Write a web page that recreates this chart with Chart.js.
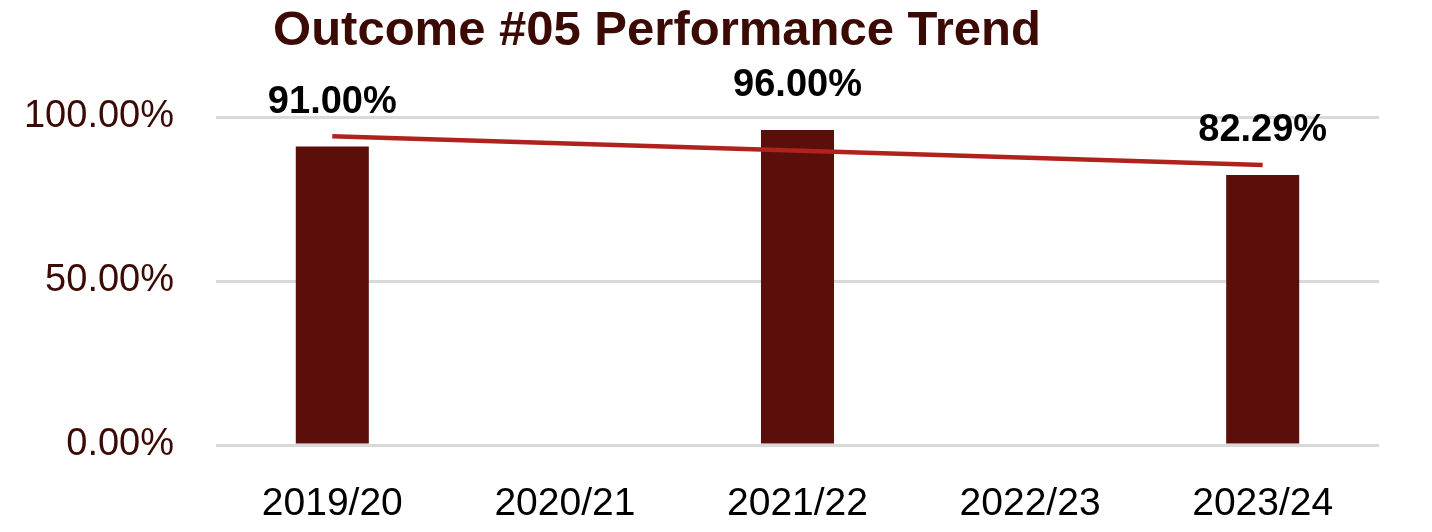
<!DOCTYPE html>
<html>
<head>
<meta charset="utf-8">
<script src="https://cdn.jsdelivr.net/npm/chart.js@4"></script>
<style>
  html, body { margin: 0; padding: 0; background: #fff; }
  #wrap { width: 1432px; height: 532px; }
</style>
</head>
<body>
<div id="wrap"><canvas id="myChart" width="1432" height="532"></canvas></div>
<script>
// data
var years = ["2019/20", "2020/21", "2021/22", "2022/23", "2023/24"];
var performance = [91.00, null, 96.00, null, 82.29];
var trend = [94.1, null, null, null, 85.4]; // linear trendline end points
var yTicks = [0, 50, 100];

var titleText = "Outcome #05 Performance Trend";
var fontName = "'Liberation Sans', Arial, sans-serif";

// title is off centre in the original, so draw it by hand
var titlePlugin = {
  id: "titleByHand",
  afterDraw: function (chart) {
    var c = chart.ctx;
    c.save();
    c.font = "bold 49px " + fontName;
    c.fillStyle = "#3c0a05";
    c.textAlign = "center";
    c.textBaseline = "alphabetic";
    c.fillText(titleText, 657, 45);
    c.restore();
  }
};

// value labels above the bars
var labelPlugin = {
  id: "barLabels",
  afterDatasetsDraw: function (chart) {
    var c = chart.ctx;
    var meta = chart.getDatasetMeta(0);
    c.save();
    c.font = "bold 38px " + fontName;
    c.fillStyle = "#000";
    c.textAlign = "center";
    c.textBaseline = "alphabetic";
    meta.data.forEach(function (bar, i) {
      var v = performance[i];
      if (v === null) return;
      c.fillText(v.toFixed(2) + "%", bar.x, bar.y - 34);
    });
    c.restore();
  }
};

var ctx = document.getElementById("myChart").getContext("2d");
var chart = new Chart(ctx, {
  type: "bar",
  data: {
    labels: years,
    datasets: [
      {
        label: "Performance",
        data: performance,
        backgroundColor: "#5a0f0a",
        barPercentage: 0.314,
        categoryPercentage: 1,
        order: 1
      },
      {
        type: "line",
        label: "Trend",
        data: trend,
        borderColor: "#b0231c",
        borderWidth: 4.5,
        pointRadius: 0,
        spanGaps: true,
        fill: false,
        order: 0
      }
    ]
  },
  options: {
    responsive: false,
    animation: false,
    devicePixelRatio: 1,
    layout: { padding: { top: 51.4, right: 53, left: 0, bottom: 0 } },
    plugins: {
      legend: { display: false },
      title: { display: false },
      tooltip: { enabled: false }
    },
    scales: {
      x: {
        grid: { display: false },
        border: { display: false },
        ticks: {
          color: "#000",
          font: { family: fontName, size: 39 },
          padding: 28,
          maxRotation: 0
        },
        afterFit: function (axis) {
          axis.height = 87;
          axis.paddingLeft = 0;
          axis.paddingRight = 0;
        }
      },
      y: {
        min: 0,
        max: 120,
        border: { display: false },
        grid: { color: "#d9d9d9", lineWidth: 3, drawTicks: false },
        ticks: {
          stepSize: 50,
          color: "#3c0a05",
          padding: 42,
          font: { family: fontName, size: 38 },
          callback: function (v) { return v.toFixed(2) + "%"; }
        },
        afterBuildTicks: function (axis) {
          axis.ticks = yTicks.map(function (v) { return { value: v }; });
        },
        afterFit: function (axis) {
          axis.width = 216;
          axis.paddingTop = 0;
          axis.paddingBottom = 0;
        }
      }
    }
  },
  plugins: [titlePlugin, labelPlugin]
});
</script>
</body>
</html>
